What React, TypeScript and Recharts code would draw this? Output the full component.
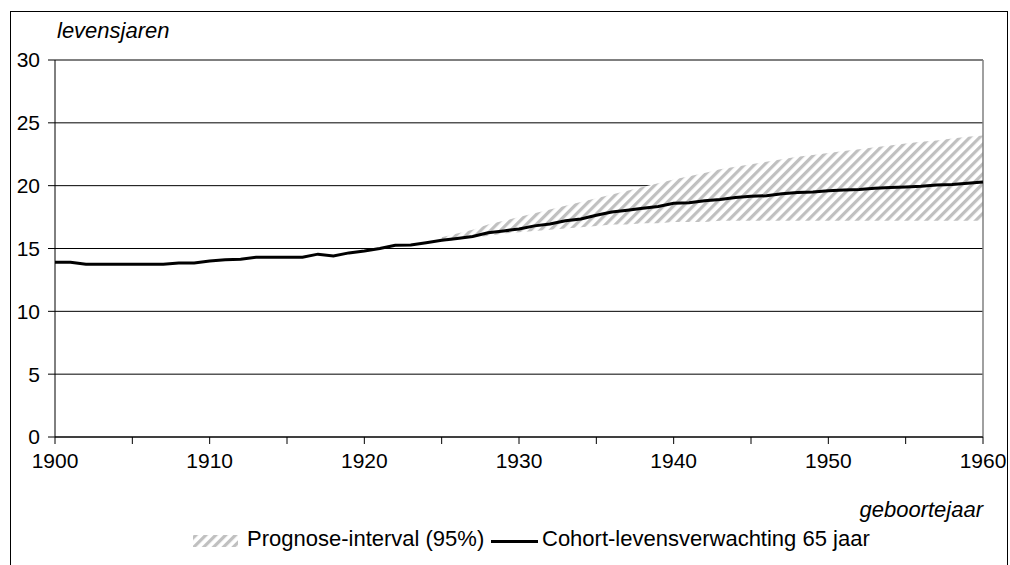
import React from "react";
import { ComposedChart, Area, Line, XAxis, YAxis, CartesianGrid, ReferenceLine } from "recharts";

const years: number[] = [];
for (let y = 1900; y <= 1960; y++) years.push(y);

const cohort = [
  13.9, 13.9, 13.75, 13.75, 13.75, 13.75, 13.75, 13.75, 13.85, 13.85,
  14.0, 14.1, 14.15, 14.3, 14.3, 14.3, 14.3, 14.55, 14.4, 14.65,
  14.8, 15.0, 15.25, 15.27, 15.45, 15.65, 15.8, 15.95, 16.25, 16.4,
  16.55, 16.8, 16.95, 17.2, 17.35, 17.65, 17.9, 18.05, 18.2, 18.35,
  18.6, 18.65, 18.8, 18.9, 19.05, 19.15, 19.2, 19.35, 19.45, 19.5,
  19.6, 19.65, 19.7, 19.8, 19.85, 19.9, 19.95, 20.05, 20.1, 20.2,
  20.3,
];

const bandYears = [
  1925, 1926, 1927, 1928, 1929, 1930, 1931, 1932, 1933, 1934, 1935, 1936,
  1937, 1938, 1939, 1940, 1941, 1942, 1943, 1944, 1945, 1946, 1947, 1948,
  1949, 1950, 1951, 1952, 1953, 1954, 1955, 1956, 1957, 1958, 1959, 1960,
];
const bandLow = [
  15.5, 15.7, 15.9, 16.0, 16.2, 16.3, 16.4, 16.5, 16.6, 16.7, 16.8, 16.9,
  16.9, 17.0, 17.0, 17.1, 17.1, 17.1, 17.2, 17.2, 17.2, 17.2, 17.2, 17.2,
  17.2, 17.2, 17.2, 17.2, 17.2, 17.2, 17.2, 17.2, 17.2, 17.2, 17.2, 17.2,
];
const bandHigh = [
  15.9, 16.2, 16.5, 16.9, 17.2, 17.5, 17.8, 18.1, 18.4, 18.7, 19.0, 19.3,
  19.6, 19.9, 20.2, 20.5, 20.75, 21.0, 21.3, 21.5, 21.7, 21.9, 22.1, 22.3,
  22.45, 22.6, 22.75, 22.9, 23.05, 23.2, 23.35, 23.5, 23.6, 23.75, 23.9, 24.0,
];

const yTicks = [0, 5, 10, 15, 20, 25, 30];
const xTicks = [1900, 1905, 1910, 1915, 1920, 1925, 1930, 1935, 1940, 1945, 1950, 1955, 1960];

const yAxisTitle = "levensjaren";
const xAxisTitle = "geboortejaar";
const bandName = "Prognose-interval (95%)";
const lineName = "Cohort-levensverwachting 65 jaar";

const data = years.map((year, i) => {
  const bi = bandYears.indexOf(year);
  return {
    year,
    cohort: cohort[i],
    band: bi >= 0 ? [bandLow[bi], bandHigh[bi]] : null,
  };
});

const FONT = "'Liberation Sans', Arial, sans-serif";

export default function App() {
  return (
    <div
      style={{
        position: "fixed",
        left: 0,
        top: 0,
        width: 1010,
        height: 565,
        overflow: "hidden",
        fontFamily: FONT,
        background: "#fff",
      }}
    >
      <div style={{ position: "absolute", left: 8, top: 8, width: 1002, height: 557 }}>
        <div
          style={{
            position: "absolute",
            left: 2,
            top: 3,
            width: 998,
            height: 600,
            border: "1px solid #000",
            boxSizing: "border-box",
          }}
        />
        <div style={{ position: "absolute", left: 0, top: 0 }}>
          <ComposedChart width={1002} height={557} data={data} margin={{ top: 52, right: 27, left: 0, bottom: 98 }}>
            <defs>
              <pattern id="hatch" width="7" height="7" patternUnits="userSpaceOnUse" patternTransform="rotate(45)">
                <rect x="0" y="0" width="7" height="7" fill="#ffffff" />
                <rect x="0" y="0" width="3.2" height="7" fill="#c0c0c0" />
              </pattern>
            </defs>
            <CartesianGrid vertical={false} stroke="#000" strokeWidth={1} />
            <XAxis
              dataKey="year"
              type="number"
              domain={[1900, 1960]}
              ticks={xTicks}
              tickFormatter={(v: number) => (v % 10 === 0 ? String(v) : "")}
              tick={{ fill: "#000", fontSize: 21, fontFamily: FONT }}
              tickSize={7}
              tickMargin={9}
              axisLine={{ stroke: "#000" }}
              tickLine={{ stroke: "#000" }}
              height={30}
              interval={0}
            />
            <YAxis
              type="number"
              domain={[0, 30]}
              ticks={yTicks}
              tick={{ fill: "#000", fontSize: 21, fontFamily: FONT }}
              tickSize={7}
              tickMargin={8}
              axisLine={{ stroke: "#000" }}
              tickLine={{ stroke: "#000" }}
              width={47}
              interval={0}
            />
            <Area
              dataKey="band"
              fill="url(#hatch)"
              fillOpacity={1}
              stroke="none"
              isAnimationActive={false}
              dot={false}
              activeDot={false}
              type="linear"
            />
            <ReferenceLine x={1960} stroke="#808080" strokeWidth={1.5} />
            <Line
              dataKey="cohort"
              stroke="#000"
              strokeWidth={3}
              dot={false}
              activeDot={false}
              type="linear"
              isAnimationActive={false}
            />
          </ComposedChart>
        </div>
        <div
          style={{
            position: "absolute",
            left: 49,
            top: 11,
            fontSize: 22,
            fontStyle: "italic",
            lineHeight: "24px",
            whiteSpace: "nowrap",
          }}
        >
          {yAxisTitle}
        </div>
        <div
          style={{
            position: "absolute",
            right: 1002 - 975,
            top: 490,
            fontSize: 22,
            fontStyle: "italic",
            lineHeight: "24px",
            whiteSpace: "nowrap",
          }}
        >
          {xAxisTitle}
        </div>
        <svg style={{ position: "absolute", left: 0, top: 0 }} width={1002} height={557}>
          <defs>
            <pattern id="hatchLegend" width="7" height="7" patternUnits="userSpaceOnUse" patternTransform="rotate(45)">
              <rect x="0" y="0" width="7" height="7" fill="#ffffff" />
              <rect x="0" y="0" width="3.2" height="7" fill="#c0c0c0" />
            </pattern>
          </defs>
          <rect x={185} y={527} width={45} height={12} fill="url(#hatchLegend)" />
          <text x={239} y={538} fontSize={22} fontFamily={FONT} fill="#000">
            {bandName}
          </text>
          <line x1={483} x2={530} y1={533.5} y2={533.5} stroke="#000" strokeWidth={3} />
          <text x={534} y={538} fontSize={22} fontFamily={FONT} fill="#000">
            {lineName}
          </text>
        </svg>
      </div>
    </div>
  );
}
